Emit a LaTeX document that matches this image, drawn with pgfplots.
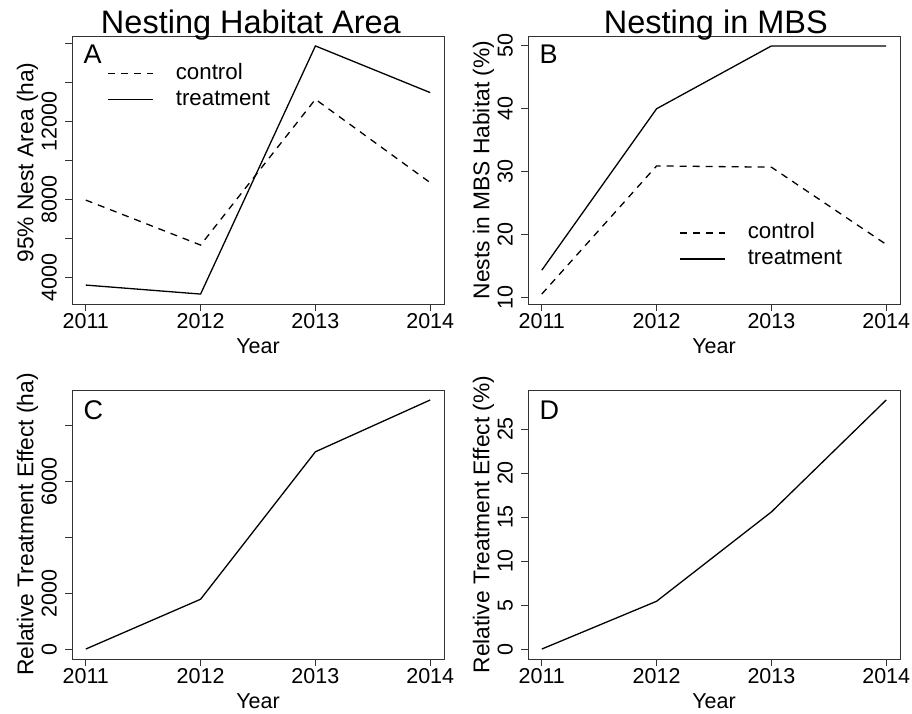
\documentclass[border=0pt]{standalone}
\usepackage{pgfplots}
\pgfplotsset{compat=1.18}
\usepackage{fontspec}
\setmainfont{Liberation Sans}

\newcommand\rfont{\fontsize{21.5}{25}\selectfont}
\newcommand\yfont{\fontsize{22.8}{26}\selectfont}
\pgfplotsset{
  rpanel/.style={
    scale only axis, width=372pt, height=268pt, anchor=south west,
    xmin=2010.88, xmax=2014.12,
    xtick={2011,2012,2013,2014}, xticklabels={2011,2012,2013,2014},
    scaled y ticks=false,
    axis line style={black!80, line width=0.9pt},
    tick style={black!80, line width=0.9pt},
    tick align=outside, major tick length=7pt,
    xtick pos=lower, ytick pos=left,
    ticklabel style={font=\rfont, inner sep=0pt},
    xticklabel style={anchor=north, yshift=-2pt},
    yticklabel style={rotate=90, anchor=south, yshift=8pt},
    xlabel={Year},
    every axis x label/.style={at={(axis description cs:0.5,-0.183)}, anchor=base, font=\rfont},
    every axis y label/.style={at={(axis description cs:-0.104,0.5)}, rotate=90, anchor=base, font=\yfont},
    /pgf/number format/assume math mode=true,
    legend image code/.code={\draw[##1] (0pt,0pt) -- (45pt,0pt); \path (67pt,0pt);},
    legend style={draw=none, fill=none, inner sep=0pt, row sep=5pt,
      font=\fontsize{22.3}{26}\selectfont,
      nodes={inner sep=0pt, text height=16pt, text depth=5pt}, cells={anchor=west}},
  },
  rtitle/.style={every axis title/.style={at={(axis description cs:#1,1.0075)}, anchor=base,
      font=\fontsize{32.5}{36}\selectfont}},
  trt/.style={black, line width=1.3pt, mark=none, solid},
  ctrl/.style={trt, dash pattern=on 7pt off 6pt},
}
\newcommand\plabel[2]{\node[anchor=base west, font=\fontsize{27}{30}\selectfont] at (axis description cs:0.022,#2) {#1};}

\begin{document}
\begin{tikzpicture}
\useasboundingbox (0,0) rectangle (912pt,713pt);

% A: nesting habitat area
\begin{axis}[rpanel, at={(72pt,409pt)}, rtitle=0.481, title={Nesting Habitat Area},
    ymin=2654, ymax=16389,
    ytick={4000,6000,8000,10000,12000,14000,16000},
    yticklabels={4000,,8000,,12000,,},
    ylabel={95\% Nest Area (ha)},
    ylabel style={at={(axis description cs:-0.104,0.528)}},
    legend style={at={(axis description cs:0.095,0.899)}, anchor=north west}]
  \addplot[ctrl] coordinates {(2011,7980) (2012,5675) (2013,13145) (2014,8872)};
  \addlegendentry{control}
  \addplot[trt] coordinates {(2011,3624) (2012,3163) (2013,15880) (2014,13487)};
  \addlegendentry{treatment}
  \plabel{A}{0.899}
\end{axis}

% B: nesting in MBS
\begin{axis}[rpanel, at={(528pt,409pt)}, rtitle=0.505, title={Nesting in MBS},
    ymin=8.92, ymax=51.58,
    ytick={10,20,30,40,50}, yticklabels={10,20,30,40,50},
    ylabel={Nests in MBS Habitat (\%)},
    legend style={at={(axis description cs:0.4067,0.305)}, anchor=north west}]
  \addplot[ctrl] coordinates {(2011,10.5) (2012,30.9) (2013,30.7) (2014,18.4)};
  \addlegendentry{control}
  \addplot[trt] coordinates {(2011,14.3) (2012,40) (2013,50) (2014,50)};
  \addlegendentry{treatment}
  \plabel{B}{0.899}
\end{axis}

% C: relative effect, area
\begin{axis}[rpanel, at={(72pt,54pt)}, height=269pt,
    ymin=-357, ymax=9279,
    ytick={0,2000,4000,6000,8000}, yticklabels={0,2000,,6000,},
    ylabel={Relative Treatment Effect (ha)}]
  \addplot[trt] coordinates {(2011,0) (2012,1784) (2013,7066) (2014,8922)};
  \plabel{C}{0.892}
\end{axis}

% D: relative effect, percent
\begin{axis}[rpanel, at={(528pt,54pt)}, height=269pt,
    ymin=-1.13, ymax=29.43,
    ytick={0,5,10,15,20,25}, yticklabels={0,5,10,15,20,25},
    ylabel={Relative Treatment Effect (\%)}]
  \addplot[trt] coordinates {(2011,0) (2012,5.43) (2013,15.58) (2014,28.3)};
  \plabel{D}{0.892}
\end{axis}
\end{tikzpicture}
\end{document}
